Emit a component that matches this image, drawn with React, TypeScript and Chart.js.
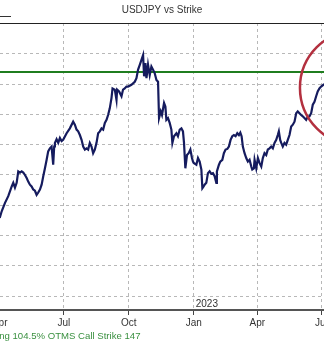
import React, { useEffect, useRef } from "react";
import { Chart, registerables } from "chart.js";

Chart.register(...registerables);

// Days counted from 1 Apr 2022
const dayOffsets = [
  -3, 0, 2.8, 7.5, 12.1, 17, 19.2, 21.6, 24, 26.3,
  28.7, 31.1, 33.4, 35.8, 38.2, 40.4, 42.8, 45.2, 47.5, 49.9,
  52.3, 54.6, 57, 59.4, 61.7, 64.1, 66.5, 68.7, 71.1, 73.5,
  75.8, 77.2, 78.2, 80.6, 82.9, 85.3, 87.7, 89.9, 94.8, 99.4,
  104.1, 106.5, 108.9, 111.2, 113.6, 116, 118.3, 120.7, 123.1, 125.3,
  127.7, 130.1, 132.4, 134.8, 137.2, 139.5, 141.9, 144.3, 146.6, 149,
  151.4, 153.6, 156, 158.4, 159.9, 163.1, 165.5, 166.4, 169.2, 172.6,
  174.8, 177.2, 179.6, 181.9, 186.7, 191.4, 193.8, 196.1, 198.5, 200.9,
  203.2, 204.6, 206.5, 208, 210.2, 212.6, 215, 217.3, 219.7, 222.1,
  224.4, 225.8, 228.2, 230, 232.9, 234.8, 236.2, 238.5, 240.9, 243.3,
  244.7, 247, 250.4, 252.6, 255.1, 257.5, 259.7, 261.2, 263.1, 265.4,
  267.8, 270.2, 272.5, 273.9, 274.9, 278.7, 281, 283.4, 285.8, 287.2,
  289, 290.4, 292.8, 295.1, 297.5, 299.9, 302.2, 304.6, 307, 307.8,
  310.7, 312.6, 315.5, 317.7, 320.1, 322.6, 324.8, 327.2, 329.6, 331.9,
  334.3, 336.7, 339, 341, 342.8, 344.6, 347, 349.4, 351.7, 354.1,
  356.5, 357.9, 360.2, 361.2, 363.6, 365.9, 368.2, 370.7, 372.9, 375.3,
  377.7, 380, 382.4, 384.8, 387.1, 389.5, 391.9, 394.1, 395.6, 397.5,
  399, 401.2, 403.6, 406, 408.3, 410.7, 413.1, 415.4, 417.8, 420.2,
  422.4, 424.8, 427.2, 429.5, 431.9, 434.3, 436.6, 439, 441.4, 443.7,
  446.1, 448.5, 450.7, 453.1, 455.5, 458.8, 462,
];

const usdjpy = [
  122.3, 122.9, 124.0, 125.4, 126.5, 128.1, 128.7, 127.9, 128.7, 130.6,
  130.4, 130.6, 130.4, 130.0, 129.5, 128.9, 128.4, 128.1, 127.6, 127.4,
  126.7, 127.1, 127.6, 128.4, 129.8, 131.1, 132.5, 133.9, 134.4, 134.7,
  131.7, 134.7, 135.3, 135.9, 135.3, 136.1, 135.6, 135.8, 136.9, 137.7,
  138.8, 138.3, 137.5, 137.2, 136.6, 135.8, 134.7, 134.2, 134.4, 134.2,
  135.3, 134.7, 133.6, 134.2, 135.3, 136.9, 137.2, 137.7, 137.5, 138.6,
  139.1, 139.9, 141.0, 142.7, 144.3, 144.1, 142.4, 144.1, 143.8, 143.0,
  144.1, 144.3, 144.6, 144.6, 144.9, 145.4, 146.0, 147.4, 148.2, 149.0,
  149.8, 146.3, 148.5, 146.0, 148.2, 146.5, 147.9, 147.4, 146.8, 145.7,
  145.4, 139.4, 140.5, 139.9, 141.9, 141.3, 139.1, 139.4, 138.6, 137.5,
  135.3, 136.4, 136.9, 136.4, 137.5, 137.7, 137.2, 135.3, 131.1, 133.3,
  133.6, 134.2, 132.8, 132.2, 132.0, 131.7, 132.8, 132.2, 130.9, 127.8,
  128.1, 128.4, 128.7, 130.3, 130.6, 130.2, 130.3, 129.8, 128.7, 130.6,
  131.7, 132.2, 132.5, 133.6, 134.2, 134.3, 134.7, 135.8, 136.4, 136.6,
  136.4, 136.9, 136.6, 137.0, 136.4, 134.7, 133.6, 132.8, 132.2, 132.5,
  131.4, 130.9, 131.1, 132.5, 131.1, 132.8, 132.0, 131.4, 132.8, 133.6,
  133.3, 134.2, 134.4, 134.7, 134.4, 135.3, 135.8, 136.6, 137.2, 135.8,
  135.3, 134.7, 135.3, 135.0, 135.8, 136.6, 138.0, 138.3, 138.8, 140.2,
  140.5, 140.2, 139.9, 139.7, 139.4, 139.1, 139.6, 139.7, 140.2, 141.6,
  142.1, 143.0, 143.8, 144.3, 144.6, 144.9, 145.1,
];

const strikeLevel = 147;
const tickDays = [0, 91, 183, 275, 365, 456];
const tickLabels = ["Apr", "Jul", "Oct", "Jan", "Apr", "Jul"];
const yearLabelDay = 275;
const yearLabel = "2023";
const yGridValues = [110, 115, 120, 125, 130, 135, 140, 145, 150];
const circleCenterDay = 507;
const circleCenterValue = 144.4;
const titleText = "USDJPY vs Strike";
const footerText = "Selling 104.5% OTMS Call Strike 147";

const FONT = '"Liberation Sans", Arial, sans-serif';

const overlayPlugin = {
  id: "overlay",
  afterDatasetsDraw(chart: any) {
    const { ctx, chartArea, scales } = chart;
    const x = scales.x;
    const y = scales.y;
    ctx.save();
    // highlight circle
    ctx.beginPath();
    ctx.arc(
      x.getPixelForValue(circleCenterDay),
      y.getPixelForValue(circleCenterValue),
      57.5,
      0,
      Math.PI * 2
    );
    ctx.strokeStyle = "#b3303f";
    ctx.lineWidth = 2.5;
    ctx.stroke();
    // top frame line
    ctx.beginPath();
    ctx.moveTo(0, chartArea.top + 0.5);
    ctx.lineTo(chart.width, chartArea.top + 0.5);
    ctx.strokeStyle = "#222";
    ctx.lineWidth = 1;
    ctx.stroke();
    // legend fragment
    ctx.beginPath();
    ctx.moveTo(0, 16.5);
    ctx.lineTo(11, 16.5);
    ctx.strokeStyle = "#333";
    ctx.lineWidth = 1;
    ctx.stroke();
    // year label
    ctx.font = "10px " + FONT;
    ctx.fillStyle = "#333";
    ctx.textAlign = "left";
    ctx.textBaseline = "middle";
    ctx.fillText(yearLabel, x.getPixelForValue(yearLabelDay) + 2, chartArea.bottom - 6);
    // footer
    ctx.font = "9.6px " + FONT;
    ctx.fillStyle = "#3a9040";
    ctx.textAlign = "right";
    ctx.fillText(footerText, 140.5, chart.height - 10);
    ctx.restore();
  },
};

export default function App() {
  const ref = useRef<HTMLCanvasElement | null>(null);

  useEffect(() => {
    if (!ref.current) return;
    const chart = new Chart(ref.current, {
      type: "line",
      data: {
        datasets: [
          {
            label: "USDJPY",
            data: dayOffsets.map((d, i) => ({ x: d, y: usdjpy[i] })),
            borderColor: "#151b5e",
            borderWidth: 2.2,
            pointRadius: 0,
            tension: 0,
          },
          {
            label: "Strike",
            data: [
              { x: -20, y: strikeLevel },
              { x: 520, y: strikeLevel },
            ],
            borderColor: "#1f7d1f",
            borderWidth: 2,
            pointRadius: 0,
          },
        ],
      },
      options: {
        animation: false,
        responsive: false,
        layout: { padding: { left: 0, right: 0, top: 0, bottom: 15 } },
        plugins: {
          legend: { display: false },
          tooltip: { enabled: false },
          title: {
            display: true,
            text: titleText,
            color: "#333",
            font: { family: FONT, size: 10, weight: "normal" },
            padding: { top: 4, bottom: 7 },
          },
        },
        scales: {
          x: {
            type: "linear",
            min: 0.4,
            max: 459.6,
            afterBuildTicks: (scale: any) => {
              scale.ticks = tickDays.map((v) => ({ value: v }));
            },
            afterFit: (scale: any) => {
              scale.paddingLeft = 0;
              scale.paddingRight = 0;
            },
            ticks: {
              autoSkip: false,
              maxRotation: 0,
              padding: 2,
              color: "#333",
              font: { family: FONT, size: 10 },
              callback: (value: any) => {
                const i = tickDays.indexOf(Number(value));
                return i >= 0 ? tickLabels[i] : "";
              },
            },
            grid: {
              color: "#b8b8b8",
              tickColor: "#444",
              tickLength: 5,
              lineWidth: 1,
            },
            border: { display: true, color: "#555", width: 2, dash: [3, 3] },
          },
          y: {
            type: "linear",
            min: 107.7,
            max: 155.1,
            afterBuildTicks: (scale: any) => {
              scale.ticks = yGridValues.map((v) => ({ value: v }));
            },
            afterFit: (scale: any) => {
              scale.width = 0;
            },
            ticks: { display: false },
            grid: { color: "#b8b8b8", drawTicks: false, lineWidth: 1 },
            border: { display: false, dash: [3, 3] },
          },
        },
      },
      plugins: [overlayPlugin],
    });
    return () => chart.destroy();
  }, []);

  return (
    <div
      style={{
        position: "fixed",
        left: 0,
        top: 0,
        width: 324,
        height: 346,
        overflow: "hidden",
        background: "#fff",
      }}
    >
      <canvas ref={ref} width={324} height={346} style={{ display: "block" }} />
    </div>
  );
}
